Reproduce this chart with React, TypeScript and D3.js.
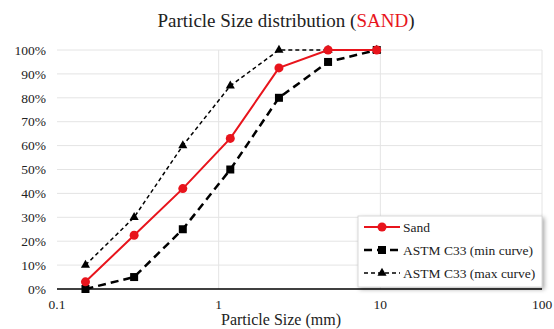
import React, { useRef, useEffect } from 'react';
import * as d3 from 'd3';

// sieve sizes (mm)
const sizes = [0.15, 0.3, 0.6, 1.18, 2.36, 4.75, 9.5];
// percent passing
const sand = [3, 22.5, 42, 63, 92.5, 100, 100];
const minCurve = [0, 5, 25, 50, 80, 95, 100];
const maxCurve = [10, 30, 60, 85, 100, 100, 100];
const yTicks = [0, 10, 20, 30, 40, 50, 60, 70, 80, 90, 100];
const xTicks = [0.1, 1, 10, 100];

const W = 554;
const H = 329;

const App = () => {
  const svgRef = useRef<SVGSVGElement>(null);

  useEffect(() => {
    const svg = d3.select(svgRef.current);
    svg.selectAll('*').remove();

    const font = 'Liberation Serif, DejaVu Serif, serif';
    const margin = { top: 50, right: 12, bottom: 40, left: 57 };
    const x = d3.scaleLog().domain([0.1, 100]).range([margin.left, W - margin.right]);
    const y = d3.scaleLinear().domain([0, 100]).range([H - margin.bottom, margin.top]);

    const defs = svg.append('defs');
    const f = defs.append('filter').attr('id', 'shadow').attr('x', '-10%').attr('y', '-10%').attr('width', '130%').attr('height', '140%');
    f.append('feDropShadow').attr('dx', 2).attr('dy', 2).attr('stdDeviation', 2).attr('flood-color', '#000').attr('flood-opacity', 0.35);

    // title
    const title = svg.append('text')
      .attr('x', 286).attr('y', 27)
      .attr('text-anchor', 'middle')
      .style('font-family', font).attr('font-size', 19).attr('fill', '#222');
    title.append('tspan').text('Particle Size distribution (');
    title.append('tspan').attr('fill', '#e8141c').text('SAND');
    title.append('tspan').text(')');

    // gridlines
    svg.append('g').selectAll('line').data(yTicks.slice(1)).enter().append('line')
      .attr('x1', x(0.1)).attr('x2', x(100))
      .attr('y1', d => y(d)).attr('y2', d => y(d))
      .attr('stroke', '#e4e4e4').attr('stroke-width', 1);
    svg.append('g').selectAll('line').data(xTicks.slice(1)).enter().append('line')
      .attr('x1', d => x(d)).attr('x2', d => x(d))
      .attr('y1', y(0)).attr('y2', y(100))
      .attr('stroke', '#e4e4e4').attr('stroke-width', 1);

    // x axis line
    svg.append('line')
      .attr('x1', x(0.1)).attr('x2', x(100))
      .attr('y1', y(0)).attr('y2', y(0))
      .attr('stroke', '#000').attr('stroke-width', 1.5);

    // tick labels
    svg.append('g').selectAll('text').data(yTicks).enter().append('text')
      .attr('x', 46).attr('y', d => y(d)).attr('dy', '0.35em')
      .attr('text-anchor', 'end')
      .style('font-family', font).attr('font-size', 13.5).attr('fill', '#222')
      .text(d => d + '%');
    svg.append('g').selectAll('text').data(xTicks).enter().append('text')
      .attr('x', d => x(d)).attr('y', 309)
      .attr('text-anchor', 'middle')
      .style('font-family', font).attr('font-size', 13.5).attr('fill', '#222')
      .text(d => String(d));

    svg.append('text')
      .attr('x', 281).attr('y', 325)
      .attr('text-anchor', 'middle')
      .style('font-family', font).attr('font-size', 16).attr('fill', '#222')
      .text('Particle Size (mm)');

    const line = d3.line<[number, number]>().x(d => x(d[0])).y(d => y(d[1]));
    const series = [
      { name: 'Sand', values: sand, color: '#e8141c', width: 2, dash: null, marker: 'circle' },
      { name: 'ASTM C33 (min curve)', values: minCurve, color: '#000', width: 2.5, dash: '8,5', marker: 'square' },
      { name: 'ASTM C33 (max curve)', values: maxCurve, color: '#000', width: 1.5, dash: '4,3', marker: 'triangle' },
    ];

    const drawMarker = (g: any, type: string, cx: number, cy: number, color: string) => {
      if (type === 'circle') {
        g.append('circle').attr('cx', cx).attr('cy', cy).attr('r', 4.5).attr('fill', color);
      } else if (type === 'square') {
        g.append('rect').attr('x', cx - 4).attr('y', cy - 4).attr('width', 8).attr('height', 8).attr('fill', color);
      } else {
        g.append('path').attr('d', d3.symbol(d3.symbolTriangle, 36)()).attr('transform', `translate(${cx},${cy})`).attr('fill', color);
      }
    };

    // draw in order: max, min, sand on top
    [series[2], series[1], series[0]].forEach(s => {
      const pts = sizes.map((v, i) => [v, s.values[i]] as [number, number]);
      const g = svg.append('g');
      g.append('path').datum(pts)
        .attr('d', line)
        .attr('fill', 'none')
        .attr('stroke', s.color)
        .attr('stroke-width', s.width)
        .attr('stroke-dasharray', s.dash);
      pts.forEach(p => drawMarker(g, s.marker, x(p[0]), y(p[1]), s.color));
    });

    // legend
    const lg = svg.append('g').attr('transform', 'translate(358,216)');
    lg.append('rect').attr('width', 184).attr('height', 71)
      .attr('fill', '#fff').attr('stroke', '#d0d0d0').attr('stroke-width', 0.8)
      .attr('filter', 'url(#shadow)');
    series.forEach((s, i) => {
      const ly = 11 + i * 23;
      lg.append('line').attr('x1', 6).attr('x2', 42).attr('y1', ly).attr('y2', ly)
        .attr('stroke', s.color).attr('stroke-width', s.width).attr('stroke-dasharray', s.dash);
      drawMarker(lg, s.marker, 24, ly, s.color);
      lg.append('text').attr('x', 45).attr('y', ly).attr('dy', '0.35em')
        .style('font-family', font).attr('font-size', 13.5).attr('fill', '#222')
        .text(s.name);
    });
  }, []);

  return (
    <svg ref={svgRef} width={W} height={H}
      style={{ position: 'absolute', left: 0, top: 0, background: '#fff' }} />
  );
};

export default App;
